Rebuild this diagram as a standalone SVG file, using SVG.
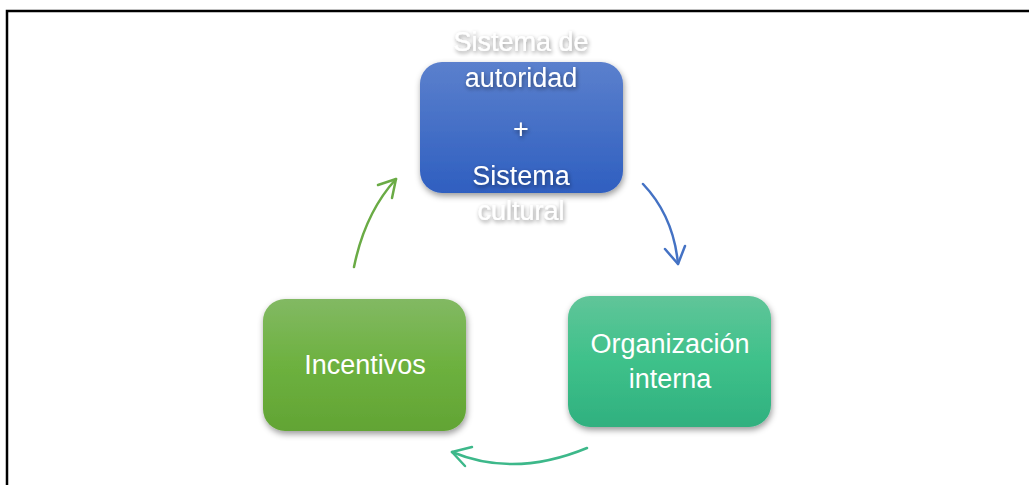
<svg xmlns="http://www.w3.org/2000/svg" width="1029" height="485" viewBox="0 0 1029 485">
<defs>
<style>
.lbl{font-family:"Liberation Sans",Arial,sans-serif;font-size:27px;fill:#fff;text-anchor:middle}
.con{fill:none;stroke-width:2.5;stroke-linecap:round;stroke-linejoin:round}
</style>
<linearGradient id="gBlue" x1="0" y1="0" x2="0" y2="1"><stop offset="0" stop-color="#5b80cd"/><stop offset="1" stop-color="#2f5fc0"/></linearGradient>
<linearGradient id="gGreen" x1="0" y1="0" x2="0" y2="1"><stop offset="0" stop-color="#82b963"/><stop offset="0.5" stop-color="#6db13f"/><stop offset="1" stop-color="#62a434"/></linearGradient>
<linearGradient id="gTeal" x1="0" y1="0" x2="0" y2="1"><stop offset="0" stop-color="#60c599"/><stop offset="0.5" stop-color="#3ec18a"/><stop offset="1" stop-color="#30b07f"/></linearGradient>
<filter id="sh" x="-20%" y="-20%" width="140%" height="150%"><feDropShadow dx="1" dy="3" stdDeviation="3" flood-color="#000" flood-opacity="0.4"/></filter>
<filter id="tsh" x="-20%" y="-40%" width="140%" height="180%"><feDropShadow dx="1" dy="2" stdDeviation="2" flood-color="#000" flood-opacity="0.45"/></filter>
</defs>
<rect width="1029" height="485" fill="#fff"/>
<path d="M7 485 V11 H1029" fill="none" stroke="#000" stroke-width="2.5"/>
<g id="connectors">
<path class="con" stroke="#4472c4" d="M643 184 Q673.5 216 678 264"/>
<path class="con" stroke="#4472c4" d="M665 249 L678 264 L685 246"/>
<path class="con" stroke="#3db88a" d="M587 448 Q514.5 478 452 452"/>
<path class="con" stroke="#3db88a" d="M472 447 L452 452 L465 466"/>
<path class="con" stroke="#6aab45" d="M354 267 Q365 213 396 179"/>
<path class="con" stroke="#6aab45" d="M378 185 L396 179 L392 198"/>
</g>
<g id="node-autoridad">
<rect x="420" y="62" width="203" height="131" rx="22" fill="url(#gBlue)" filter="url(#sh)"/>
<g filter="url(#tsh)">
<text class="lbl" x="521" y="51">Sistema de</text>
<text class="lbl" x="521" y="87">autoridad</text>
<text class="lbl" x="521" y="138">+</text>
<text class="lbl" x="521" y="185">Sistema</text>
<text class="lbl" x="521" y="220">cultural</text>
</g>
</g>
<g id="node-organizacion">
<rect x="568" y="296" width="203" height="131" rx="22" fill="url(#gTeal)" filter="url(#sh)"/>
<text class="lbl" x="670" y="353">Organización</text>
<text class="lbl" x="670" y="388">interna</text>
</g>
<g id="node-incentivos">
<rect x="263" y="299" width="203" height="132" rx="22" fill="url(#gGreen)" filter="url(#sh)"/>
<text class="lbl" x="365" y="374">Incentivos</text>
</g>
</svg>
